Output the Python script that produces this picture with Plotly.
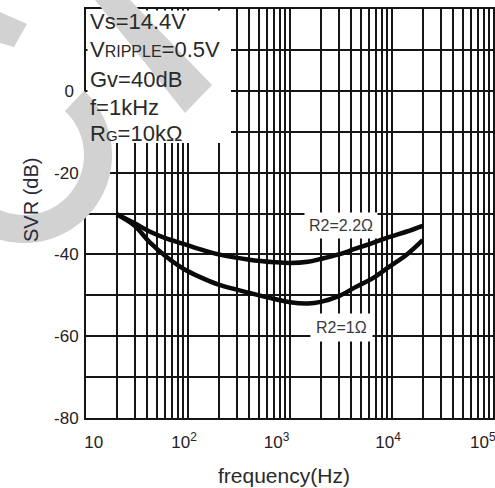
import numpy as np
import plotly.graph_objects as go

# ---- data ----
freq_hz = [20, 30, 42, 60, 90, 130, 200, 400, 700, 1000, 1500, 2000, 3000, 4400, 6500, 9300, 14000, 20000]
svr_r2_22ohm = [-30.2, -32.4, -34.4, -36.0, -37.4, -38.7, -40.0, -41.3, -41.9, -42.1, -41.8, -41.1, -40.0, -38.6, -37.2, -35.8, -34.4, -33.0]
svr_r2_1ohm = [-30.2, -33.0, -37.0, -40.4, -43.5, -45.5, -47.4, -49.4, -50.9, -51.7, -52.0, -51.6, -50.2, -48.0, -45.8, -43.1, -40.0, -36.5]

NB = "\u00a0"
x_major = [10, 100, 1000, 10000, 100000]
x_major_text = [NB * 5 + "10", "10<sup>2</sup>", "10<sup>3</sup>" + NB * 4,
                 "10<sup>4</sup>", "10<sup>5</sup>" + NB * 3]
y_ticks = [-80, -70, -60, -50, -40, -30, -20, -10, 0, 10, 20]
y_tick_text = ["-80", "", "-60", "", "-40", "", "-20", "", "0" + NB, "", ""]

conditions = ["Vs=14.4V",
              "V<span style='font-size:16px'>RIPPLE</span>=0.5V",
              "Gv=40dB",
              "f=1kHz",
              "R<span style='font-size:15px'>G</span>=10kΩ"]

# ---- geometry helpers (pixel -> paper) ----
W, H = 495, 488
L, R, T, B = 86, 0, 9, 70
PW, PH = W - L - R, H - T - B


def px(x):
    return (x - L) / PW


def py(y):
    return (H - B - y) / PH


# gridline positions: 1..9 x each decade
x_grid = []
x_grid_text = []
for d in range(1, 5):
    for k in range(1, 10):
        v = k * 10 ** d
        x_grid.append(v)
        x_grid_text.append(x_major_text[x_major.index(v)] if v in x_major else "")
x_grid.append(100000)
x_grid_text.append(x_major_text[-1])

fig = go.Figure()
fig.add_trace(go.Scatter(x=freq_hz, y=svr_r2_22ohm, mode="lines",
                         line=dict(color="#0a0a0a", width=4.5, shape="spline"),
                         showlegend=False))
fig.add_trace(go.Scatter(x=freq_hz, y=svr_r2_1ohm, mode="lines",
                         line=dict(color="#0a0a0a", width=4.5, shape="spline"),
                         showlegend=False))

FONT = "Liberation Sans, Arial, sans-serif"
axis_common = dict(showgrid=True, gridcolor="#151515", gridwidth=1.8,
                   showline=True, linecolor="#151515", linewidth=2, mirror=True,
                   zeroline=False, ticks="", automargin=False, ticklabeloverflow="allow",
                   tickfont=dict(family=FONT, size=17, color="#222"))

fig.update_xaxes(type="log", range=[1, 5.01], tickvals=x_grid, ticktext=x_grid_text,
                 ticklabelshift=-4, ticklabelstandoff=8, **axis_common)
fig.update_yaxes(range=[-80, 20], tickvals=y_ticks, ticktext=y_tick_text,
                 ticklabelstandoff=2, **axis_common)

shapes = []
# white box behind condition text
shapes.append(dict(type="rect", xref="paper", yref="paper",
                   x0=px(87.5), x1=px(231), y0=py(143), y1=py(10.5),
                   fillcolor="white", line=dict(width=0), layer="above"))


def path_from(points):
    return "M " + " L ".join(f"{px(a):.5f},{py(b):.5f}" for a, b in points) + " Z"


# watermark pieces (light grey)
stripe = [(95, 0), (130, 0), (212, 85), (185, 113)]
block = [(0, 12), (27, 24), (14, 47), (0, 43)]
cx, cy, r_in, r_out = 24, 155, 60, 88
ang = np.radians(np.linspace(-47, 130, 60))
outer = [(cx + r_out * np.cos(a), cy + r_out * np.sin(a)) for a in ang]
inner = [(cx + r_in * np.cos(a), cy + r_in * np.sin(a)) for a in ang[::-1]]
for poly in (stripe, block, outer + inner):
    shapes.append(dict(type="path", xref="paper", yref="paper", path=path_from(poly),
                       fillcolor="#d2d2d2", line=dict(width=0), layer="above"))

annotations = []
line_y = [22, 50, 79, 107, 133]
for txt, yy in zip(conditions, line_y):
    annotations.append(dict(x=px(88), y=py(yy), xref="paper", yref="paper",
                            xanchor="left", yanchor="middle", text=txt, showarrow=False,
                            font=dict(family=FONT, size=22, color="#2a2a2a")))

annotations.append(dict(x=px(341), y=py(225), xref="paper", yref="paper",
                        xanchor="center", yanchor="middle",
                        text="R2=2.2Ω", showarrow=False, bgcolor="white", borderpad=4,
                        font=dict(family=FONT, size=16, color="#3a3a3a")))
annotations.append(dict(x=px(341), y=py(327), xref="paper", yref="paper",
                        xanchor="center", yanchor="middle",
                        text="R2=1Ω", showarrow=False, bgcolor="white", borderpad=5,
                        font=dict(family=FONT, size=16, color="#3a3a3a")))

annotations.append(dict(x=px(284), y=py(475), xref="paper", yref="paper",
                        xanchor="center", yanchor="middle",
                        text="frequency(Hz)", showarrow=False,
                        font=dict(family=FONT, size=21, color="#2a2a2a")))
annotations.append(dict(x=px(31), y=py(200), xref="paper", yref="paper", textangle=-90,
                        xanchor="center", yanchor="middle",
                        text="SVR (dB)", showarrow=False,
                        font=dict(family=FONT, size=20, color="#2a2a3a")))

fig.update_layout(width=W, height=H, margin=dict(l=L, r=R, t=T, b=B, autoexpand=False),
                  paper_bgcolor="white", plot_bgcolor="white",
                  shapes=shapes, annotations=annotations, showlegend=False)

fig.write_html("out.html", config={"displayModeBar": False},
               post_script="document.body.style.margin='0';document.body.style.padding='0';")
